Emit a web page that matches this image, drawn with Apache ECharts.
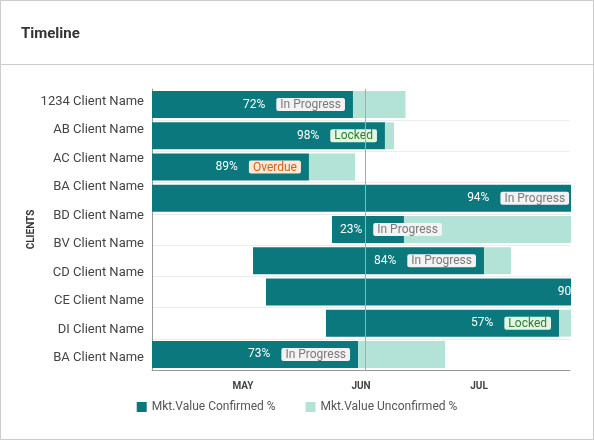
<!DOCTYPE html>
<html>
<head>
<meta charset="utf-8">
<title>Timeline</title>
<script src="https://cdn.jsdelivr.net/npm/echarts@6/dist/echarts.min.js"></script>
<style>
  html, body { margin: 0; padding: 0; background: #fff; }
  #timelineChart { width: 594px; height: 440px; }
</style>
</head>
<body>
<div id="timelineChart"></div>
<script>
// timeline unit = months since 1 Apr (1 = MAY, 2 = JUN, 3 = JUL)
const clients = [
  "1234 Client Name",
  "AB Client Name",
  "AC Client Name",
  "BA Client Name",
  "BD Client Name",
  "BV Client Name",
  "CD Client Name",
  "CE Client Name",
  "DI Client Name",
  "BA Client Name",
];
const monthTicks = [1, 2, 3];
const monthLabels = ["MAY", "JUN", "JUL"];
const timelineMin = 0.229;
const timelineMax = 3.771;
const todayMark = 2.042;

const barStart = [0.229, 0.229, 0.229, 0.229, 1.754, 1.085, 1.195, 1.703, 0.229];
const confirmedEnd = [1.932, 2.203, 1.559, 3.831, 2.364, 3.042, 3.924, 3.678, 1.975];
const unconfirmedEnd = [2.377, 2.28, 1.949, 3.831, 3.9, 3.271, 3.924, 3.78, 2.712];
const confirmedPct = [72, 98, 89, 94, 23, 84, 90, 57, 73];
const barStatus = ["In Progress", "Locked", "Overdue", "In Progress", "In Progress", "In Progress", "", "Locked", "In Progress"];

const tagKey = { "In Progress": "ip", "Locked": "lk", "Overdue": "od" };
const TEAL = "#0a787c";
const MINT = "#b3e3d7";

let myChart = echarts.init(document.getElementById("timelineChart"));

let barRows = barStart.map((s, i) => i);
let offsetData = barStart.map((s) => s);
let confirmedData = barStart.map((s, i) => {
  let len = confirmedEnd[i] - s;
  return {
    value: len,
    // short bars get the label on the left, spilling over
    label: { position: len < 0.8 ? "insideLeft" : "insideRight" },
  };
});
let unconfirmedData = barStart.map((s, i) => unconfirmedEnd[i] - confirmedEnd[i]);

let tagBase = { fontSize: 12, padding: [1, 4, 0, 4], borderRadius: 2, lineHeight: 13 };

let options = {
  textStyle: { fontFamily: "Roboto, 'Noto Sans', sans-serif" },
  animation: false,
  title: {
    text: "Timeline",
    left: 16,
    top: 22,
    textStyle: { fontSize: 15, fontWeight: "bold", color: "#333" },
  },
  graphic: [
    {
      type: "rect",
      z: 100,
      shape: { x: 571, y: 80, width: 21, height: 300 },
      style: { fill: "#fff" },
      silent: true,
    },
    {
      type: "line",
      z: 101,
      shape: { x1: 0, y1: 64.5, x2: 594, y2: 64.5 },
      style: { stroke: "#cccccc", lineWidth: 1 },
      silent: true,
    },
    {
      type: "rect",
      z: 101,
      shape: { x: 0.5, y: 0.5, width: 593, height: 439 },
      style: { fill: null, stroke: "#cccccc", lineWidth: 1 },
      silent: true,
    },
  ],
  legend: {
    data: ["Mkt.Value Confirmed %", "Mkt.Value Unconfirmed %"],
    left: "center",
    top: 396,
    itemWidth: 10,
    itemHeight: 10,
    itemGap: 30,
    icon: "rect",
    textStyle: { fontSize: 12, color: "#555" },
  },
  grid: [
    { left: 152, right: 24, top: 89, bottom: 70 },
    { left: 152, right: 24, top: 87, bottom: 68 },
  ],
  xAxis: [
    {
      type: "value",
      gridIndex: 0,
      min: timelineMin,
      max: timelineMax,
      axisLine: { show: true, lineStyle: { color: "#999" } },
      axisTick: { show: false },
      splitLine: { show: false },
      axisLabel: {
        customValues: monthTicks,
        margin: 11,
        fontSize: 10,
        fontWeight: "bold",
        color: "#444",
        formatter: (v) => monthLabels[monthTicks.indexOf(Math.round(v))] || "",
      },
    },
    {
      type: "value",
      gridIndex: 1,
      min: timelineMin,
      max: timelineMax,
      show: false,
    },
  ],
  yAxis: [
    {
      type: "category",
      gridIndex: 0,
      data: barRows,
      inverse: true,
      axisLine: { show: true, lineStyle: { color: "#999" } },
      axisTick: { show: false },
      axisLabel: { show: false },
      splitLine: {
        show: true,
        interval: (i) => i > 0,
        lineStyle: { color: "#ececec" },
      },
    },
    {
      type: "category",
      gridIndex: 1,
      data: clients,
      inverse: true,
      axisLine: { show: false },
      axisTick: { show: false },
      splitLine: { show: false },
      axisLabel: { fontSize: 13, color: "#444", margin: 8 },
      name: "CLIENTS",
      nameLocation: "middle",
      nameGap: 116,
      nameMoveOverlap: false,
      nameTextStyle: { fontSize: 10, fontWeight: "bold", color: "#333" },
    },
  ],
  series: [
    {
      name: "offset",
      type: "bar",
      stack: "timeline",
      xAxisIndex: 0,
      yAxisIndex: 0,
      barWidth: 27,
      clip: false,
      silent: true,
      itemStyle: { color: "transparent" },
      emphasis: { disabled: true },
      data: offsetData,
    },
    {
      name: "Mkt.Value Confirmed %",
      type: "bar",
      stack: "timeline",
      xAxisIndex: 0,
      yAxisIndex: 0,
      barWidth: 27,
      clip: false,
      itemStyle: { color: TEAL },
      label: {
        show: true,
        distance: 8,
        formatter: function (p) {
          let i = p.dataIndex;
          let st = barStatus[i];
          if (!st) return "{pct|" + confirmedPct[i] + "%}";
          return "{pctTag|" + confirmedPct[i] + "%}{" + tagKey[st] + "|" + st + "}";
        },
        rich: {
          pct: { color: "#fff", fontSize: 12 },
          pctTag: { color: "#fff", fontSize: 12, padding: [0, 11, 0, 0] },
          ip: Object.assign({}, tagBase, { color: "#7a7a7a", backgroundColor: "#f3f3f3" }),
          lk: Object.assign({}, tagBase, { color: "#2f7d32", backgroundColor: "#e2f6e2" }),
          od: Object.assign({}, tagBase, { color: "#cf621c", backgroundColor: "#fde7d5" }),
        },
      },
      data: confirmedData,
    },
    {
      name: "Mkt.Value Unconfirmed %",
      type: "bar",
      stack: "timeline",
      xAxisIndex: 0,
      yAxisIndex: 0,
      barWidth: 27,
      clip: false,
      itemStyle: { color: MINT },
      data: unconfirmedData,
      markLine: {
        silent: true,
        symbol: "none",
        label: { show: false },
        lineStyle: { color: "#aaa", type: "solid", width: 1 },
        data: [{ xAxis: todayMark }],
      },
    },
  ],
};
myChart.setOption(options);
</script>
</body>
</html>
